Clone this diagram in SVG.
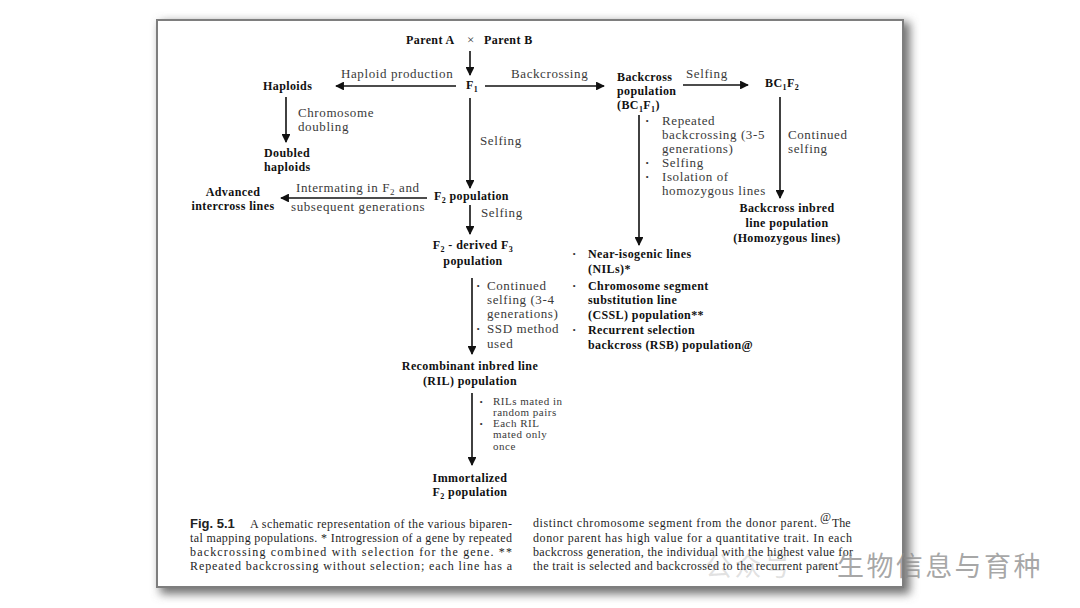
<svg xmlns="http://www.w3.org/2000/svg" width="1080" height="608" viewBox="0 0 1080 608">
<style>
.n{font-family:"Liberation Serif",serif;font-weight:bold;font-size:12px;letter-spacing:0.4px;fill:#111}
.l{font-family:"Liberation Serif",serif;font-size:13px;letter-spacing:0.6px;fill:#3a3a3a}
.s{font-family:"Liberation Serif",serif;font-size:11px;letter-spacing:0.5px;fill:#3a3a3a}
.b{font-family:"Liberation Serif",serif;font-weight:bold;font-size:13px;fill:#333}
.c{font-family:"Liberation Serif",serif;font-size:12px;fill:#1e1e1e}
.f{font-family:"Liberation Sans",Arial,sans-serif;font-weight:bold;font-size:13px;fill:#222}
.m{text-anchor:middle}
.ar{stroke:#111;stroke-width:1.6;fill:none;marker-end:url(#ah)}
.wm{font-family:"Noto Sans CJK SC",sans-serif;font-size:27px;letter-spacing:2.4px}
</style>
<defs>
<marker id="ah" viewBox="0 0 10 10" refX="9" refY="5" markerWidth="5.5" markerHeight="5.5" orient="auto" markerUnits="strokeWidth">
<path d="M0,0 L10,5 L0,10 Z" fill="#111"/>
</marker>
<filter id="sh" x="-10%" y="-10%" width="120%" height="120%">
<feGaussianBlur stdDeviation="5"/>
</filter>
</defs>
<rect width="1080" height="608" fill="#fff"/>
<rect x="160" y="22" width="750" height="572" fill="#737373" filter="url(#sh)"/>
<rect x="157" y="20" width="746" height="567" fill="#fff" stroke="#7e7e7e" stroke-width="2"/>

<g id="connectors">
<line class="ar" x1="470" y1="51" x2="470" y2="75"/>
<line class="ar" x1="456" y1="86" x2="336" y2="86"/>
<line class="ar" x1="286" y1="97" x2="286" y2="142"/>
<line class="ar" x1="470" y1="98" x2="470" y2="188"/>
<line class="ar" x1="427" y1="198" x2="281" y2="198"/>
<line class="ar" x1="470" y1="205" x2="470" y2="234"/>
<line class="ar" x1="472" y1="278" x2="472" y2="354"/>
<line class="ar" x1="472" y1="393" x2="472" y2="465"/>
<line class="ar" x1="485" y1="86" x2="604" y2="86"/>
<line class="ar" x1="683" y1="85" x2="748" y2="85"/>
<line class="ar" x1="780" y1="97" x2="780" y2="198"/>
<line class="ar" x1="639" y1="115" x2="639" y2="245"/>
</g>

<g id="edge-labels">
<text class="l" x="341" y="78">Haploid production</text>
<text class="l" x="298" y="117">Chromosome</text>
<text class="l" x="298" y="131">doubling</text>
<text class="l" x="480" y="145">Selfing</text>
<text class="l" x="296" y="192">Intermating in F<tspan font-size="9" dy="3">2</tspan><tspan dy="-3"> and</tspan></text>
<text class="l" x="291" y="211">subsequent generations</text>
<text class="l" x="481" y="217">Selfing</text>
<text class="b" x="476" y="290">·</text>
<text class="l" x="487" y="290">Continued</text>
<text class="l" x="487" y="304">selfing (3-4</text>
<text class="l" x="487" y="318">generations)</text>
<text class="b" x="476" y="333">·</text>
<text class="l" x="487" y="333">SSD method</text>
<text class="l" x="487" y="348">used</text>
<text class="b" x="479" y="406">·</text>
<text class="s" x="493" y="405">RILs mated in</text>
<text class="s" x="493" y="416">random pairs</text>
<text class="b" x="479" y="428">·</text>
<text class="s" x="493" y="427">Each RIL</text>
<text class="s" x="493" y="438">mated only</text>
<text class="s" x="493" y="450">once</text>
<text class="l" x="511" y="78">Backcrossing</text>
<text class="l" x="686" y="78">Selfing</text>
<text class="l" x="788" y="139">Continued</text>
<text class="l" x="788" y="153">selfing</text>
<text class="b" x="645" y="125">·</text>
<text class="l" x="662" y="125">Repeated</text>
<text class="l" x="662" y="139">backcrossing (3-5</text>
<text class="l" x="662" y="153">generations)</text>
<text class="b" x="645" y="167">·</text>
<text class="l" x="662" y="167">Selfing</text>
<text class="b" x="645" y="181">·</text>
<text class="l" x="662" y="181">Isolation of</text>
<text class="l" x="662" y="195">homozygous lines</text>
</g>

<g id="parents">
<text class="n" x="406" y="44">Parent A</text>
<text class="l m" x="471" y="44">×</text>
<text class="n" x="484" y="44">Parent B</text>
</g>
<g id="f1"><text class="n" x="466" y="89">F<tspan font-size="8" dy="3">1</tspan></text></g>
<g id="haploids"><text class="n" x="263" y="90">Haploids</text></g>
<g id="doubled-haploids">
<text class="n" x="264" y="157">Doubled</text>
<text class="n" x="264" y="171">haploids</text>
</g>
<g id="f2"><text class="n" x="434" y="200">F<tspan font-size="8" dy="3">2</tspan><tspan dy="-3"> population</tspan></text></g>
<g id="advanced-intercross">
<text class="n m" x="233" y="196">Advanced</text>
<text class="n m" x="233" y="210">intercross lines</text>
</g>
<g id="f3">
<text class="n m" x="473" y="249">F<tspan font-size="8" dy="3">2</tspan><tspan dy="-3"> - derived F</tspan><tspan font-size="8" dy="3">3</tspan></text>
<text class="n m" x="473" y="265">population</text>
</g>
<g id="ril">
<text class="n m" x="470" y="370">Recombinant inbred line</text>
<text class="n m" x="470" y="385">(RIL) population</text>
</g>
<g id="immortalized-f2">
<text class="n m" x="470" y="482">Immortalized</text>
<text class="n m" x="470" y="496">F<tspan font-size="8" dy="3">2</tspan><tspan dy="-3"> population</tspan></text>
</g>
<g id="bc1f1">
<text class="n" x="617" y="81">Backcross</text>
<text class="n" x="617" y="95">population</text>
<text class="n" x="617" y="109">(BC<tspan font-size="8" dy="3">1</tspan><tspan dy="-3">F</tspan><tspan font-size="8" dy="3">1</tspan><tspan dy="-3">)</tspan></text>
</g>
<g id="bc1f2"><text class="n" x="765" y="87">BC<tspan font-size="8" dy="3">1</tspan><tspan dy="-3">F</tspan><tspan font-size="8" dy="3">2</tspan></text></g>
<g id="backcross-inbred">
<text class="n m" x="787" y="212">Backcross inbred</text>
<text class="n m" x="787" y="227">line population</text>
<text class="n m" x="787" y="242">(Homozygous lines)</text>
</g>
<g id="nil-list">
<text class="b" x="572" y="258">·</text>
<text class="n" x="588" y="258">Near-isogenic lines</text>
<text class="n" x="588" y="273">(NILs)*</text>
<text class="b" x="572" y="290">·</text>
<text class="n" x="588" y="290">Chromosome segment</text>
<text class="n" x="588" y="304">substitution line</text>
<text class="n" x="588" y="319">(CSSL) population**</text>
<text class="b" x="572" y="334">·</text>
<text class="n" x="588" y="334">Recurrent selection</text>
<text class="n" x="588" y="349">backcross (RSB) population@</text>
</g>

<g id="caption">
<text class="f" x="190" y="528">Fig. 5.1</text>
<text class="c" x="250" y="528" textLength="262" lengthAdjust="spacing">A schematic representation of the various biparen-</text>
<text class="c" x="190" y="542" textLength="322" lengthAdjust="spacing">tal mapping populations. * Introgression of a gene by repeated</text>
<text class="c" x="190" y="556" textLength="322" lengthAdjust="spacing">backcrossing combined with selection for the gene. **</text>
<text class="c" x="190" y="570" textLength="322" lengthAdjust="spacing">Repeated backcrossing without selection; each line has a</text>
<text class="c" x="533" y="527" textLength="284" lengthAdjust="spacing">distinct chromosome segment from the donor parent.</text>
<text class="c" x="820" y="521" font-size="8">@</text>
<text class="c" x="832" y="527">The</text>
<text class="c" x="533" y="542" textLength="319" lengthAdjust="spacing">donor parent has high value for a quantitative trait. In each</text>
<text class="c" x="533" y="556" textLength="320" lengthAdjust="spacing">backcross generation, the individual with the highest value for</text>
<text class="c" x="533" y="570" textLength="305" lengthAdjust="spacing">the trait is selected and backcrossed to the recurrent parent</text>
</g>

<g id="watermark">
<text class="wm" x="705" y="576" fill="#888" fill-opacity="0.25">公众号</text>
<text class="wm" x="808" y="576" fill="#888" fill-opacity="0.45">·</text>
<text class="wm" x="837" y="576" fill="#8a8a8a" fill-opacity="0.75">生物信息与育种</text>
</g>
</svg>
